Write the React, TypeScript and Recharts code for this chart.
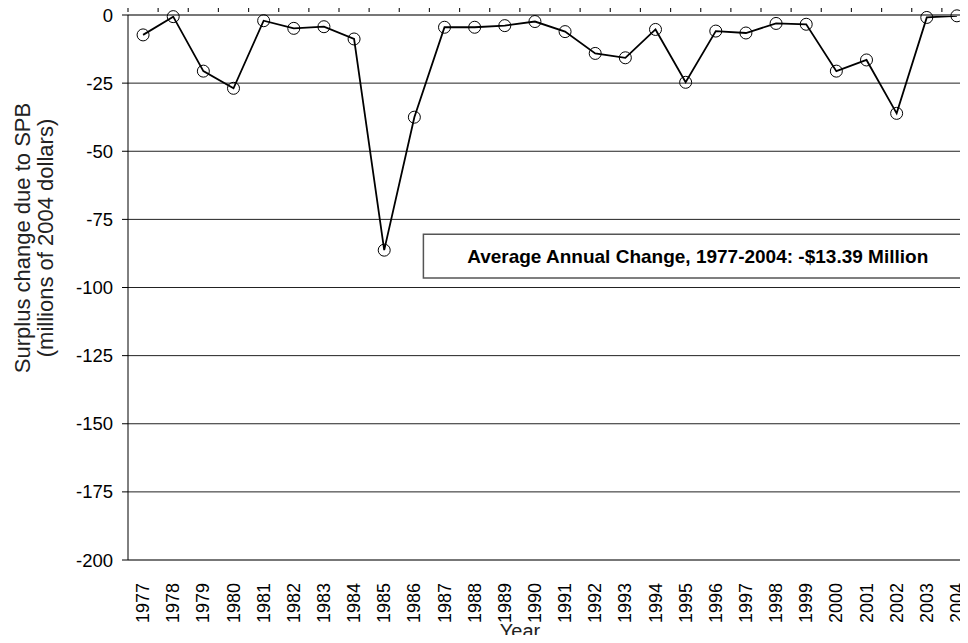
import React from "react";
import {
  LineChart,
  Line,
  XAxis,
  YAxis,
  CartesianGrid,
  ReferenceArea,
  Label,
} from "recharts";

const years: number[] = [
  1977, 1978, 1979, 1980, 1981, 1982, 1983, 1984, 1985, 1986, 1987, 1988, 1989, 1990,
  1991, 1992, 1993, 1994, 1995, 1996, 1997, 1998, 1999, 2000, 2001, 2002, 2003, 2004,
];

const surplusChange: number[] = [
  -7.3, -0.6, -20.6, -26.9, -2.1, -4.9, -4.3, -8.8, -86.3, -37.5, -4.5, -4.5, -3.9, -2.4,
  -6.1, -14.1, -15.7, -5.3, -24.7, -5.9, -6.6, -3.1, -3.4, -20.6, -16.5, -36.1, -0.9, -0.3,
];

const yTicks: number[] = [0, -25, -50, -75, -100, -125, -150, -175, -200];

// tick marks on the zero line sit between the years
const boundaryTicks: number[] = [...years.map((y) => y - 0.5), 2004.5];

const annotation = "Average Annual Change, 1977-2004: -$13.39 Million";

const data = years.map((year, i) => ({ year, value: surplusChange[i] }));

const FONT = "'Liberation Sans', Arial, sans-serif";

const YearTick = (props: any) => {
  const { x, y, payload } = props;
  return (
    <text
      x={x}
      y={y + 15}
      transform={`rotate(-90 ${x} ${y + 15})`}
      textAnchor="end"
      dy="0.34em"
      fontSize={18}
      fill="#000"
      fontFamily={FONT}
    >
      {payload.value}
    </text>
  );
};

const TopTick = (props: any) => {
  const { x, y } = props;
  return <line x1={x} x2={x} y1={y} y2={y + 5} stroke="#222" strokeWidth={1.2} />;
};

const YTitle = (props: any) => {
  const { viewBox } = props;
  const cy = viewBox.y + 223;
  return (
    <g fontFamily={FONT} fontSize={22} fill="#222">
      <text x={30} y={cy} transform={`rotate(-90 30 ${cy})`} textAnchor="middle">
        Surplus change due to SPB
      </text>
      <text x={53} y={cy} transform={`rotate(-90 53 ${cy})`} textAnchor="middle">
        (millions of 2004 dollars)
      </text>
    </g>
  );
};

const BoxLabel = (props: any) => {
  const { viewBox } = props;
  const cx = viewBox.x + viewBox.width / 2;
  const cy = viewBox.y + viewBox.height / 2;
  return (
    <text
      x={cx}
      y={cy}
      dy="0.36em"
      textAnchor="middle"
      fontFamily={FONT}
      fontSize={19}
      fontWeight="bold"
      fill="#000"
    >
      {annotation}
    </text>
  );
};

export default function App() {
  return (
    <div style={{ margin: -8, width: 968, height: 643, overflow: "hidden", background: "#fff" }}>
      <LineChart
        width={980}
        height={643}
        data={data}
        margin={{ top: 14, right: 8, left: 0, bottom: 0 }}
        style={{ fontFamily: FONT }}
      >
        <CartesianGrid vertical={false} stroke="#222" strokeWidth={1} yAxisId="y" xAxisId="x" />
        <XAxis
          xAxisId="x"
          dataKey="year"
          type="number"
          domain={[1976.5, 2004.5]}
          ticks={years}
          interval={0}
          height={83}
          tickLine={false}
          axisLine={{ stroke: "#777", strokeWidth: 2 }}
          tick={<YearTick />}
        >
          <Label
            value="Year"
            position="insideBottom"
            offset={5}
            fontSize={20}
            fill="#222"
            dx={-30}
          />
        </XAxis>
        <XAxis
          xAxisId="top"
          dataKey="year"
          orientation="top"
          type="number"
          domain={[1976.5, 2004.5]}
          ticks={boundaryTicks}
          interval={0}
          height={1}
          tickLine={false}
          tick={<TopTick />}
          axisLine={{ stroke: "#777", strokeWidth: 2 }}
        />
        <YAxis
          yAxisId="y"
          domain={[-200, 0]}
          ticks={yTicks}
          interval={0}
          width={128}
          tickSize={6}
          tickMargin={9}
          axisLine={{ stroke: "#000" }}
          tickLine={{ stroke: "#000" }}
          tick={{ fontSize: 18.5, fill: "#000", fontFamily: FONT }}
        >
          <Label content={<YTitle />} />
        </YAxis>
        <ReferenceArea
          xAxisId="x"
          yAxisId="y"
          x1={1986.3}
          x2={2004.5}
          y1={-80.5}
          y2={-96.5}
          fill="#fff"
          fillOpacity={1}
          stroke="#555"
          strokeWidth={1.5}
          ifOverflow="visible"
          label={<BoxLabel />}
        />
        <Line
          xAxisId="x"
          yAxisId="y"
          type="linear"
          dataKey="value"
          stroke="#000"
          strokeWidth={1.8}
          dot={{ r: 6, fill: "none", stroke: "#000", strokeWidth: 1 }}
          activeDot={false}
          isAnimationActive={false}
        />
      </LineChart>
    </div>
  );
}
